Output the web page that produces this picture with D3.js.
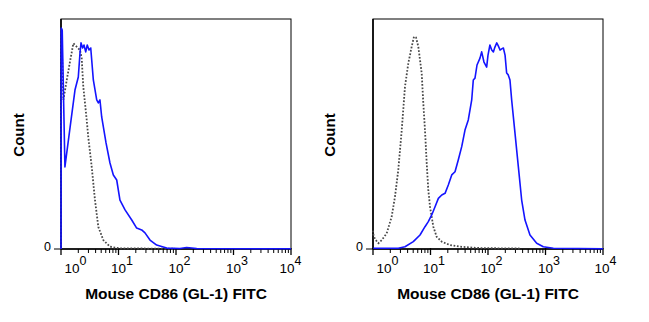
<!DOCTYPE html>
<html>
<head>
<meta charset="utf-8">
<script src="https://cdn.jsdelivr.net/npm/d3@7"></script>
<style>
  html, body { margin: 0; padding: 0; background: #fff; }
  svg { display: block; }
  text { font-family: "Liberation Sans", Arial, sans-serif; fill: #000; }
</style>
</head>
<body>
<svg id="chart" width="649" height="322"></svg>
<script>
// Histogram A: FITC intensity (linear units) vs. count (% of max)
const aStainedFitc  = [1.0, 1.01, 1.05, 1.17, 1.44, 1.75, 2.0, 2.14, 2.23, 2.38, 2.51, 2.69, 2.86, 3.07, 3.29, 3.65, 4.18, 4.46, 4.76, 5.1, 6.07, 7.11, 8.13, 9.31, 10.6, 13.0, 17.0, 20.7, 25.3, 28.9, 35.3, 46.1, 60.1, 68.9, 117, 153, 229, 10000];
const aStainedCount = [0, 96.1, 95.2, 35.7, 53.0, 69.1, 74.8, 85.2, 89.6, 87.4, 88.7, 85.7, 88.7, 86.5, 87.4, 73.5, 64.8, 63.5, 64.8, 57.4, 46.1, 37.4, 32.2, 30.0, 21.3, 17.0, 12.6, 9.1, 8.3, 7.0, 3.9, 1.7, 0.9, 0.4, 0.2, 0.65, 0.2, 0.1];
const aControlFitc  = [1.0, 1.01, 1.10, 1.26, 1.43, 1.64, 2.14, 2.29, 2.44, 2.80, 2.98, 3.42, 3.90, 4.46, 5.44, 7.11, 10.6, 96];
const aControlCount = [0, 96, 64.8, 73.5, 81.3, 89.4, 86.5, 83.0, 70.6, 56.1, 48.7, 35.7, 21.3, 9.6, 3.9, 1.0, 0.3, 0.1];

// Histogram B
const bStainedFitc  = [1.01, 2.75, 3.60, 5.02, 6.57, 8.02, 9.16, 10.5, 12.0, 13.7, 15.7, 17.9, 20.4, 23.4, 26.7, 30.4, 34.9, 39.8, 45.4, 52.1, 55.5, 59.4, 64.4, 72.6, 77.6, 85.1, 94.8, 100, 108, 116, 124, 132, 142, 151, 162, 173, 185, 198, 211, 225, 241, 258, 295, 337, 385, 440, 537, 703, 916, 1368, 10000];
const bStainedCount = [0.3, 0.3, 1.0, 3.2, 6.1, 9.7, 11.9, 14.8, 18.4, 22.0, 23.5, 24.2, 27.8, 32.2, 33.6, 38.7, 44.5, 51.7, 56.1, 64.8, 73.5, 74.3, 80.0, 83.0, 85.7, 81.3, 79.1, 84.3, 88.7, 86.5, 85.7, 87.8, 89.6, 88.3, 86.5, 87.0, 87.4, 84.3, 76.5, 75.7, 73.5, 64.8, 50.3, 35.8, 21.3, 12.6, 6.1, 2.5, 1.0, 0.3, 0.1];
const bControlFitc  = [1.0, 1.01, 1.08, 1.24, 1.42, 1.73, 2.11, 2.41, 2.75, 3.16, 3.60, 4.11, 4.71, 5.16, 5.59, 6.14, 7.03, 7.50, 8.02, 8.59, 9.16, 9.80, 11.2, 12.8, 15.7, 21.8, 32.6, 72.6, 360];
const bControlCount = [8, 6.5, 4.3, 2.5, 3.9, 6.8, 14.0, 22.7, 34.3, 51.7, 70.6, 80.7, 88.0, 92.3, 92.0, 88.0, 76.4, 63.3, 51.7, 37.3, 25.7, 18.4, 9.7, 5.3, 3.2, 1.7, 1.0, 0.4, 0.2];

// Axis labelling
const decadeExponents = [0, 1, 2, 3, 4];
const xTitle = "Mouse CD86 (GL-1) FITC";
const yTitle = "Count";
const yZeroLabel = "0";

const panels = [
  { left: 61,  stained: [aStainedFitc, aStainedCount], control: [aControlFitc, aControlCount], lastShift: -4 },
  { left: 373, stained: [bStainedFitc, bStainedCount], control: [bControlFitc, bControlCount], lastShift: -1 }
];

const plotW = 230, plotH = 230, plotTop = 19;
const svg = d3.select("#chart");

panels.forEach((p, i) => {
  const g = svg.append("g").attr("transform", `translate(${p.left},${plotTop})`);
  const x = d3.scaleLog().domain([1, 10000]).range([0, plotW]);
  const y = d3.scaleLinear().domain([0, 100]).range([plotH, 0]);

  const clipId = "clip" + i;
  g.append("clipPath").attr("id", clipId)
    .append("rect").attr("x", -1).attr("y", -1).attr("width", plotW + 2).attr("height", plotH + 2);

  // frame
  g.append("rect").attr("width", plotW).attr("height", plotH)
    .attr("fill", "none").attr("stroke", "#000").attr("stroke-width", 1);

  // bottom axis ticks: decades + minor ticks
  const minor = [];
  decadeExponents.slice(0, -1).forEach(e => {
    for (let m = 2; m <= 9; m++) minor.push(m * Math.pow(10, e));
  });
  const axisG = g.append("g").attr("transform", `translate(0,${plotH})`);
  axisG.append("line").attr("x1", 0).attr("x2", plotW).attr("stroke", "#000").attr("stroke-width", 1.6);
  axisG.selectAll("line.minor").data(minor).join("line").attr("class", "minor")
    .attr("x1", d => x(d)).attr("x2", d => x(d)).attr("y1", 0).attr("y2", 4)
    .attr("stroke", "#000").attr("stroke-width", 1);
  axisG.selectAll("line.major").data(decadeExponents).join("line").attr("class", "major")
    .attr("x1", d => x(Math.pow(10, d))).attr("x2", d => x(Math.pow(10, d)))
    .attr("y1", -1).attr("y2", 6).attr("stroke", "#000").attr("stroke-width", 1.3);

  // decade labels: "10" with superscript exponent
  decadeExponents.forEach((e, k) => {
    let cx = x(Math.pow(10, e));
    if (k === 0) cx += 11;
    if (k === decadeExponents.length - 1) cx += p.lastShift;
    axisG.append("text").attr("x", cx).attr("y", 24)
      .attr("text-anchor", "middle").attr("font-size", 13.5).text("10");
    axisG.append("text").attr("x", cx + 7.5).attr("y", 16)
      .attr("text-anchor", "start").attr("font-size", 12.5).text(String(e));
  });

  // left axis with the zero tick
  g.append("line").attr("x1", 0).attr("x2", 0).attr("y1", 0).attr("y2", plotH)
    .attr("stroke", "#000").attr("stroke-width", 1.6);
  g.append("line").attr("x1", -7).attr("x2", 0).attr("y1", y(0)).attr("y2", y(0))
    .attr("stroke", "#000").attr("stroke-width", 1);
  g.append("text").attr("x", -10).attr("y", y(0) + 2)
    .attr("text-anchor", "end").attr("font-size", 12.5).text(yZeroLabel);

  const line = d3.line().x(d => x(d[0])).y(d => y(d[1]));
  const pairs = arr => arr[0].map((v, j) => [v, arr[1][j]]);

  g.append("path").datum(pairs(p.control))
    .attr("clip-path", `url(#${clipId})`)
    .attr("d", line).attr("fill", "none")
    .attr("stroke", "#484848").attr("stroke-width", 1.8)
    .attr("stroke-dasharray", "1.7,1.7");

  g.append("path").datum(pairs(p.stained))
    .attr("clip-path", `url(#${clipId})`)
    .attr("d", line).attr("fill", "none")
    .attr("stroke", "#1414ff").attr("stroke-width", 1.6)
    .attr("stroke-linejoin", "round");

  // titles
  g.append("text").attr("x", plotW / 2).attr("y", 298.5 - plotTop)
    .attr("text-anchor", "middle").attr("font-size", 15.5).attr("font-weight", "bold")
    .text(xTitle);
  g.append("text")
    .attr("transform", `translate(${(i === 0 ? 24 : 335) - p.left},${135 - plotTop}) rotate(-90)`)
    .attr("text-anchor", "middle").attr("font-size", 15).attr("font-weight", "bold")
    .text(yTitle);
});
</script>
</body>
</html>
